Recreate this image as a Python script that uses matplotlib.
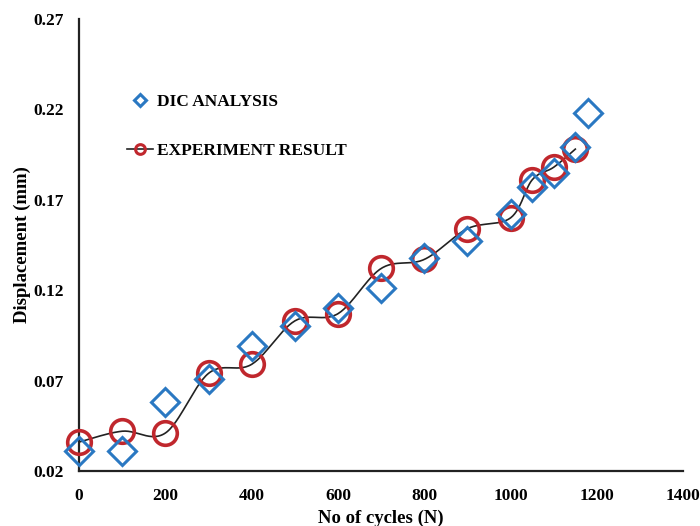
import numpy as np
import matplotlib
matplotlib.use("Agg")
import matplotlib.pyplot as plt
from matplotlib.lines import Line2D

# Data
dic_x = [0, 100, 200, 300, 400, 500, 600, 700, 800, 900, 1000, 1050, 1100, 1150, 1180]
dic_y = [0.031, 0.031, 0.058, 0.071, 0.089, 0.100, 0.110, 0.121, 0.138, 0.147, 0.162, 0.177, 0.185, 0.199, 0.218]
exp_x = [0, 100, 200, 300, 400, 500, 600, 700, 800, 900, 1000, 1050, 1100, 1150]
exp_y = [0.036, 0.042, 0.041, 0.074, 0.079, 0.103, 0.107, 0.132, 0.137, 0.154, 0.160, 0.181, 0.188, 0.198]
x_ticks = [0, 200, 400, 600, 800, 1000, 1200, 1400]
y_ticks = [0.02, 0.07, 0.12, 0.17, 0.22, 0.27]

BLUE = "#2a78c2"
RED = "#c0272d"

plt.rcParams['font.family'] = ['Liberation Serif', 'DejaVu Serif']
plt.rcParams['font.weight'] = 'bold'


def smooth(xs, ys, n=30):
    """Excel-like smoothed line (Catmull-Rom as cubic Bezier)."""
    P = np.column_stack([xs, ys]).astype(float)
    m = len(P)
    out = []
    t = np.linspace(0, 1, n)
    for i in range(m - 1):
        p0 = P[i - 1] if i > 0 else P[i]
        p1 = P[i]
        p2 = P[i + 1]
        p3 = P[i + 2] if i + 2 < m else P[i + 1]
        c1 = p1 + (p2 - p0) / 6.0
        c2 = p2 - (p3 - p1) / 6.0
        seg = ((1 - t)[:, None] ** 3 * p1 + 3 * (1 - t)[:, None] ** 2 * t[:, None] * c1
               + 3 * (1 - t)[:, None] * t[:, None] ** 2 * c2 + t[:, None] ** 3 * p2)
        out.append(seg if i == 0 else seg[1:])
    out = np.vstack(out)
    return out[:, 0], out[:, 1]


fig = plt.figure(figsize=(7, 5.26), dpi=100)
ax = fig.add_axes([0.113, 0.1046, 0.863, 0.8594])

sx, sy = smooth(exp_x, exp_y)
ax.plot(sx, sy, color="#222222", lw=1.2, zorder=2, clip_on=False)
ax.plot(exp_x, exp_y, ls="none", marker="o", ms=17, mfc="none", mec=RED, mew=2.6, zorder=3, clip_on=False)
ax.plot(dic_x, dic_y, ls="none", marker="D", ms=14, mfc="none", mec=BLUE, mew=2.2, zorder=4, clip_on=False)

ax.set_xlim(0, 1400)
ax.set_ylim(0.02, 0.27)
ax.set_xticks(x_ticks)
ax.set_yticks(y_ticks)
ax.set_yticklabels([f"{v:.2f}" for v in y_ticks])
ax.tick_params(length=0, labelsize=12.5, pad=11)
ax.tick_params(axis='x', pad=12)
for s in ["top", "right"]:
    ax.spines[s].set_visible(False)
for s in ["left", "bottom"]:
    ax.spines[s].set_linewidth(1.6)
    ax.spines[s].set_color("#222222")

ax.set_xlabel("No of cycles (N)", fontsize=13.5, fontweight='bold', labelpad=4)
ax.set_ylabel("Displacement (mm)", fontsize=13.5, fontweight='bold', labelpad=2)

handles = [
    Line2D([], [], ls="none", marker="D", ms=6, mfc="none", mec=BLUE, mew=2.2),
    Line2D([], [], color="#222222", lw=1.2, marker="o", ms=7, mfc="none", mec=RED, mew=2.2),
]
ax.legend(handles, ["DIC ANALYSIS", "EXPERIMENT RESULT"], loc="upper left",
          bbox_to_anchor=(0.182, 0.822), bbox_transform=fig.transFigure,
          frameon=False, fontsize=12.5, handlelength=1.5, handletextpad=0.2,
          labelspacing=1.9, borderaxespad=0, borderpad=0)

fig.savefig("out.png", dpi=100)
